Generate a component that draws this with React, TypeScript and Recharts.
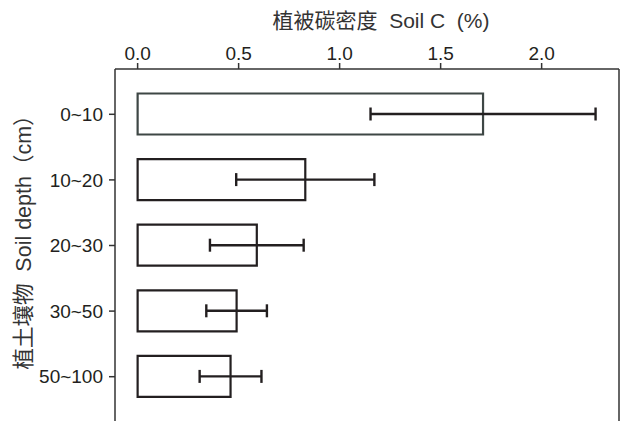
import { Bar, BarChart, Cell, ErrorBar, Label, XAxis, YAxis } from "recharts";

const depths = ["0~10", "10~20", "20~30", "30~50", "50~100"];
const soilC = [1.71, 0.83, 0.59, 0.49, 0.46];
const soilCErr = [0.557, 0.342, 0.232, 0.15, 0.153];
const xTicks = [0, 0.5, 1, 1.5, 2];

const data = depths.map((depth, i) => ({ depth, value: soilC[i], err: soilCErr[i] }));

const INK = "#231f20";
const FONT = "'Liberation Sans', Arial, 'Noto Sans CJK SC', sans-serif";

const renderTitle = () => (
  <text x={381} y={28} textAnchor="middle" fontSize={21} fill="#333" fontFamily={FONT}>
    {"植被碳密度\u00a0 Soil C\u00a0 (%)"}
  </text>
);

const renderYTitle = () => (
  <text
    x={24}
    y={237}
    transform="rotate(-90 24 237)"
    textAnchor="middle"
    dominantBaseline="central"
    fontSize={21.5}
    fill="#333"
    fontFamily={FONT}
  >
    {"植土壤物\u00a0 Soil depth（cm）"}
  </text>
);

export default function App() {
  return (
    <div style={{ position: "absolute", left: 0, top: 0, width: 621, height: 421, overflow: "hidden", background: "#fff" }}>
      <BarChart
        width={621}
        height={424}
        data={data}
        layout="vertical"
        margin={{ top: 0, right: 0, bottom: 0, left: 0 }}
      >
        <XAxis
          type="number"
          orientation="top"
          domain={[-0.112, 2.383]}
          allowDataOverflow
          ticks={xTicks}
          tickFormatter={(v: number) => v.toFixed(1)}
          height={69}
          tickSize={6}
          tickMargin={3}
          tick={{ fill: INK, fontSize: 19, fontFamily: FONT }}
          tickLine={{ stroke: "#333", strokeWidth: 1.5 }}
          axisLine={{ stroke: "#333", strokeWidth: 1.5 }}
        >
          <Label content={renderTitle} />
        </XAxis>
        <YAxis
          type="category"
          dataKey="depth"
          width={115}
          padding={{ top: 12.5, bottom: 14.5 }}
          tickSize={6}
          tickMargin={6}
          tick={{ fill: INK, fontSize: 19, fontFamily: FONT }}
          tickLine={{ stroke: "#333", strokeWidth: 1.5 }}
          axisLine={{ stroke: "#333", strokeWidth: 1.5 }}
        >
          <Label content={renderYTitle} />
        </YAxis>
        <YAxis
          yAxisId="right"
          orientation="right"
          type="category"
          dataKey="depth"
          width={2}
          tick={false}
          tickLine={false}
          axisLine={{ stroke: "#333", strokeWidth: 1.5 }}
        />
        <Bar dataKey="value" barSize={41} fill="#fff" strokeWidth={2.2} isAnimationActive={false}>
          {data.map((d, i) => (
            <Cell key={d.depth} stroke={i === 0 ? "#3e4745" : INK} />
          ))}
          <ErrorBar dataKey="err" direction="x" width={6.5} stroke={INK} strokeWidth={2.4} />
        </Bar>
      </BarChart>
    </div>
  );
}
